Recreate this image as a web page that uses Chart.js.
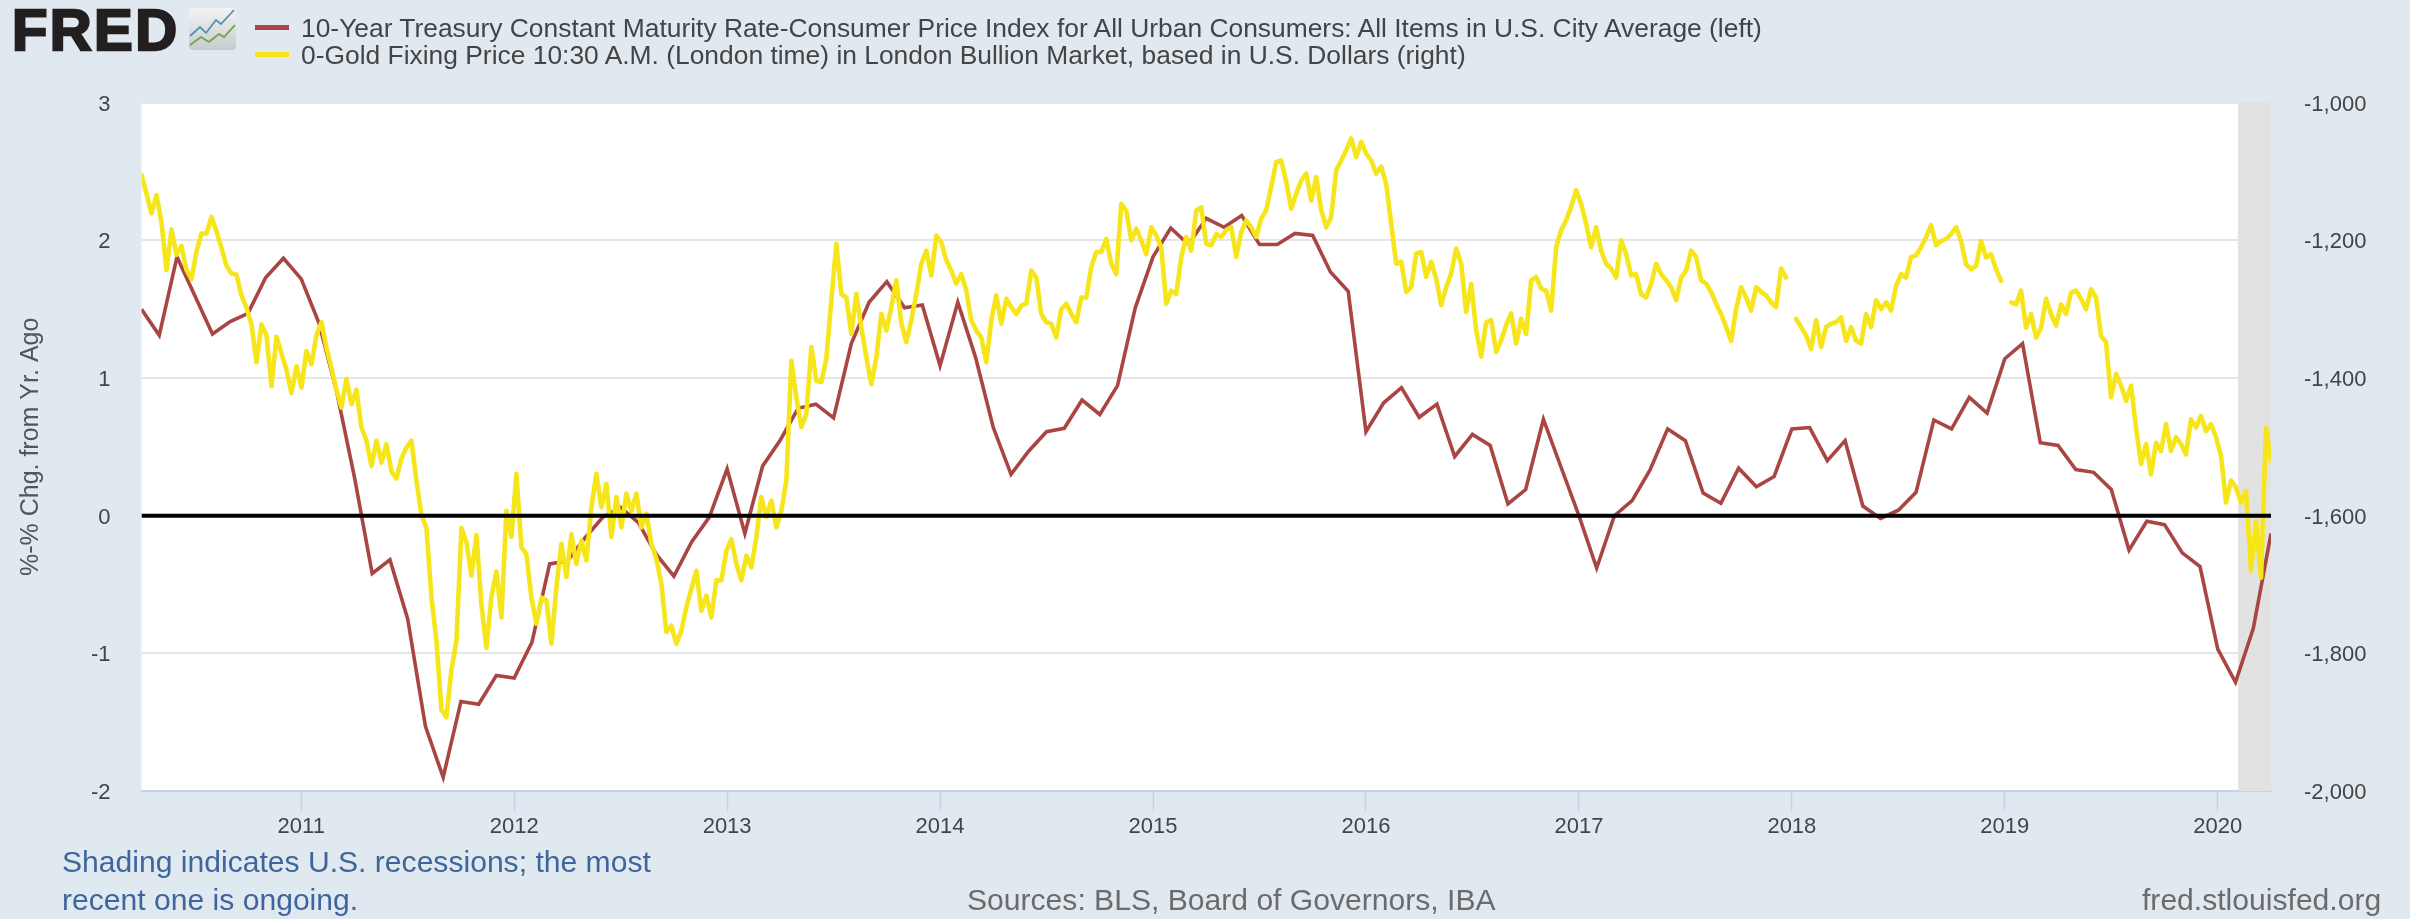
<!DOCTYPE html>
<html>
<head>
<meta charset="utf-8">
<title>10-Year Treasury real rate vs. gold</title>
<script src="https://cdn.jsdelivr.net/npm/chart.js@4"></script>
<style>
  html,body{margin:0;padding:0;background:#e1e9f0;width:2410px;height:919px;overflow:hidden;font-family:"Liberation Sans",Arial,sans-serif;}
  canvas{position:absolute;left:0;top:0;}
  .t{position:absolute;white-space:nowrap;}
  .key{position:absolute;left:255px;width:34px;height:5px;}
</style>
</head>
<body>
<canvas id="c" width="2410" height="919"></canvas>

<div class="t" id="logo" style="left:12px;top:-4px;font:bold 58px/68px 'Liberation Sans';color:#231f20;-webkit-text-stroke:2.4px #231f20;letter-spacing:2.4px;">FRED</div>
<svg style="position:absolute;left:189px;top:8px" width="48" height="43" viewBox="0 0 48 43">
  <defs><linearGradient id="g" x1="0" y1="0" x2="0" y2="1"><stop offset="0" stop-color="#f2f4f4"/><stop offset="1" stop-color="#c6cbcd"/></linearGradient></defs>
  <rect x="0" y="0" width="47" height="42" rx="4" fill="url(#g)"/>
  <polyline points="1,28 11,19 17,25 27,12 32,16 45,2" fill="none" stroke="#5a8fb0" stroke-width="1.8"/>
  <polyline points="1,37 12,29 20,34 30,26 35,29 46,17" fill="none" stroke="#6fa24a" stroke-width="1.8"/>
</svg>
<div class="key" id="k1" style="top:25px;"></div>
<div class="key" id="k2" style="top:52px;"></div>
<div class="t" id="l1" style="left:301px;top:13px;font-size:26.4px;line-height:30px;color:#444;"></div>
<div class="t" id="l2" style="left:301px;top:40px;font-size:26.4px;line-height:30px;color:#444;"></div>
<div class="t" id="n1" style="left:62px;top:843px;font-size:30.1px;line-height:38px;color:#3e659c;"></div>
<div class="t" id="n2" style="left:62px;top:881px;font-size:30.1px;line-height:38px;color:#3e659c;"></div>
<div class="t" id="src" style="left:967px;top:881px;font-size:30.1px;line-height:38px;color:#6b6b6b;"></div>
<div class="t" id="url" style="left:2142px;top:881px;font-size:30.1px;line-height:38px;color:#6b6b6b;"></div>

<script>
const realRateName = "10-Year Treasury Constant Maturity Rate-Consumer Price Index for All Urban Consumers: All Items in U.S. City Average (left)";
const goldName = "0-Gold Fixing Price 10:30 A.M. (London time) in London Bullion Market, based in U.S. Dollars (right)";
const leftAxisTitle = "%-% Chg. from Yr. Ago";
const noteLines = ["Shading indicates U.S. recessions; the most", "recent one is ongoing."];
const sourceText = "Sources: BLS, Board of Governors, IBA";
const siteText = "fred.stlouisfed.org";

const yearTicks = [2011,2012,2013,2014,2015,2016,2017,2018,2019,2020];
const leftTicks = [-2,-1,0,1,2,3];
const rightTicks = [-2000,-1800,-1600,-1400,-1200,-1000];
const axisStart = 2010.25;
const axisEnd = 2020.25;
const recessionStart = 2020.095;
const recessionEnd = 2020.25;
const zeroLevel = 0;

// monthly, first value April 2010
const realRate = [
 1.50,1.31,1.88,1.60,1.32,1.41,1.47,1.73,1.87,1.72,1.40,0.90,
 0.28,-0.42,-0.32,-0.75,-1.53,-1.90,-1.35,-1.37,-1.16,-1.18,-0.92,-0.35,
 -0.33,-0.16,-0.01,0.06,-0.05,-0.28,-0.44,-0.19,-0.01,0.34,-0.13,0.36,
 0.55,0.78,0.81,0.71,1.25,1.55,1.70,1.51,1.53,1.09,1.55,1.15,
 0.64,0.30,0.47,0.61,0.635,0.84,0.735,0.945,1.51,1.88,2.09,1.97,
 2.16,2.095,2.18,1.97,1.97,2.05,2.035,1.77,1.63,0.61,0.82,0.93,
 0.715,0.81,0.43,0.59,0.51,0.085,0.19,0.70,0.35,0,-0.38,0,
 0.11,0.33,0.63,0.545,0.165,0.09,0.345,0.21,0.285,0.63,0.64,0.40,
 0.545,0.07,-0.02,0.04,0.17,0.695,0.63,0.86,0.745,1.14,1.25,0.53,
 0.51,0.335,0.315,0.19,-0.25,-0.04,-0.065,-0.27,-0.37,-0.97,-1.21,-0.82,
 -0.13
];
const realRateStartYear = 2010.25;
const realRateStepYears = 1/12;

// at an even spacing along the time axis
const goldStepYears = 10/426;
const gold2010 = [
 -1105,-1132,-1161,-1134,-1174,-1243,-1184,-1221,-1208,-1243,-1256,-1216,-1190,-1190,-1166,-1187,-1211,-1237,-1248,-1250,
 -1280,-1298,-1322,-1377,-1322,-1338,-1412,-1340,-1364,-1388,-1422,-1383,-1414,-1361,-1380,-1338,-1319,-1356,-1385,-1417,
 -1443,-1401,-1438,-1417,-1472,-1491,-1528,-1491,-1523,-1496,-1536,-1546,-1517,-1501,-1491,-1549,-1599,-1618,-1718,-1782,
 -1882,-1893,-1824,-1782,-1618,-1639,-1687,-1628,-1729,-1792,-1718,-1681
];
const gold2012 = [
 -1748,-1593,-1631,-1539,-1646,-1656,-1719,-1757,-1719,-1723,-1786,-1704,-1641,-1689,-1627,-1670,-1636,-1665,-1588,-1539,
 -1588,-1554,-1631,-1573,-1617,-1568,-1593,-1568,-1617,-1597,-1641,-1663,-1699,-1769,-1760,-1786,-1767,-1733,-1706,-1680,
 -1738,-1716,-1748,-1694,-1694,-1651,-1634,-1670,-1694,-1658,-1675,-1631,-1573,-1602,-1578,-1617,-1593,-1549,-1375,-1428,
 -1471,-1452,-1355,-1404,-1406,-1372,-1287,-1205,-1278,-1283,-1336,-1278
];
const gold2013 = [
 -1326,-1370,-1409,-1370,-1307,-1331,-1297,-1258,-1321,-1348,-1316,-1278,-1234,-1215,-1251,-1193,-1203,-1229,-1244,-1263,
 -1249,-1273,-1316,-1331,-1341,-1377,-1316,-1280,-1321,-1285,-1297,-1307,-1295,-1292,-1244,-1254,-1307,-1319,-1321,-1341,
 -1300,-1292,-1307,-1319,-1283,-1283,-1239,-1217,-1217,-1198,-1234,-1249,-1147,-1157,-1200,-1183,-1200,-1220,-1181,-1193,
 -1210,-1292,-1273,-1278,-1224,-1195,-1215,-1157,-1152,-1205,-1207,-1191
];
const gold2015 = [
 -1195,-1185,-1181,-1224,-1188,-1171,-1181,-1195,-1168,-1156,-1122,-1086,-1084,-1115,-1154,-1132,-1113,-1103,-1142,-1108,
 -1156,-1181,-1166,-1098,-1084,-1069,-1052,-1079,-1057,-1074,-1084,-1103,-1093,-1118,-1176,-1234,-1231,-1275,-1268,-1219,
 -1217,-1253,-1231,-1256,-1294,-1268,-1248,-1212,-1234,-1304,-1263,-1331,-1369,-1319,-1316,-1362,-1345,-1323,-1306,-1350,
 -1314,-1336,-1258,-1253,-1270,-1273,-1302,-1210,-1185,-1171,-1151,-1127
];
const gold2017 = [
 -1147,-1176,-1210,-1181,-1215,-1234,-1241,-1254,-1200,-1220,-1251,-1249,-1278,-1283,-1263,-1234,-1249,-1258,-1268,-1287,
 -1254,-1244,-1215,-1224,-1258,-1263,-1275,-1292,-1307,-1326,-1346,-1300,-1268,-1283,-1302,-1268,-1275,-1280,-1290,-1297,
 -1241,-1254,null,-1314,-1326,-1338,-1358,-1316,-1355,-1326,-1321,-1319,-1312,-1346,-1326,-1346,-1350,-1307,-1326,-1287,
 -1300,-1290,-1302,-1266,-1249,-1254,-1224,-1222,-1210,-1195,-1178,-1207
];
const gold2018 = [
 -1201,-1198,-1191,-1181,-1201,-1235,-1242,-1237,-1201,-1225,-1220,-1242,-1259,null,-1290,-1293,-1273,-1327,-1307,-1341,
 -1327,-1285,-1307,-1324,-1293,-1307,-1276,-1273,-1285,-1300,-1271,-1283,-1339,-1348,-1428,-1394,-1411,-1433,-1411,-1472,
 -1525,-1496,-1540,-1494,-1506,-1467,-1506,-1486,-1496,-1511,-1460,-1472,-1455,-1477,-1467,-1486,-1513,-1581,-1549,-1559,
 -1581,-1564,-1680,-1608,-1690,-1472,-1520
];
const goldValues = [...gold2010,...gold2012,...gold2013,...gold2015,...gold2017,...gold2018];

const colors = {red:'#a94643', gold:'#f7e51c', zero:'#000000', grid:'#e6e6e6', axis:'#c6d3e6', tick:'#444444', band:'#e2e2e2'};

document.getElementById('l1').textContent = realRateName;
document.getElementById('l2').textContent = goldName;
document.getElementById('k1').style.background = colors.red;
document.getElementById('k2').style.background = colors.gold;
document.getElementById('n1').textContent = noteLines[0];
document.getElementById('n2').textContent = noteLines[1];
document.getElementById('src').textContent = sourceText;
document.getElementById('url').textContent = siteText;

const realRatePoints = realRate.map((y,i)=>({x:realRateStartYear+i*realRateStepYears,y}));
const goldPoints = goldValues.map((y,i)=>({x:axisStart+i*goldStepYears,y}));
const zeroPoints = [{x:axisStart,y:zeroLevel},{x:axisEnd,y:zeroLevel}];

const plotFrame = {
  id:'plotFrame',
  beforeDraw(ch){
    const a = ch.chartArea, c = ch.ctx;
    c.save(); c.fillStyle='#ffffff'; c.fillRect(a.left,a.top,a.right-a.left,a.bottom-a.top); c.restore();
  },
  beforeDatasetsDraw(ch){
    const a = ch.chartArea, c = ch.ctx, xs = ch.scales.x;
    const x0 = xs.getPixelForValue(recessionStart), x1 = xs.getPixelForValue(recessionEnd);
    c.save(); c.fillStyle=colors.band; c.fillRect(x0,a.top,x1-x0,a.bottom-a.top); c.restore();
  }
};

const font = {family:"'Liberation Sans',Arial,sans-serif", size:22};

new Chart(document.getElementById('c'),{
  type:'line',
  plugins:[plotFrame],
  data:{datasets:[
    {label:'zero',data:zeroPoints,yAxisID:'y',borderColor:colors.zero,borderWidth:4,pointRadius:0,order:0},
    {label:goldName,data:goldPoints,yAxisID:'y2',borderColor:colors.gold,borderWidth:4.6,pointRadius:0,tension:0,spanGaps:false,order:1,borderJoinStyle:'round',borderCapStyle:'round'},
    {label:realRateName,data:realRatePoints,yAxisID:'y',borderColor:colors.red,borderWidth:3.6,pointRadius:0,tension:0,order:2,borderJoinStyle:'miter'}
  ]},
  options:{
    responsive:false,animation:false,devicePixelRatio:1,
    layout:{padding:{top:102.7,left:0,right:0,bottom:0}},
    plugins:{legend:{display:false},title:{display:false},tooltip:{enabled:false}},
    scales:{
      x:{type:'linear',min:axisStart,max:axisEnd,
        afterBuildTicks(s){s.ticks=yearTicks.map(value=>({value}));},
        afterFit(s){s.height=128;},
        border:{display:true,color:colors.axis,width:2},
        grid:{display:true,drawOnChartArea:false,drawTicks:true,tickLength:20,tickColor:colors.axis,tickWidth:1.5},
        ticks:{autoSkip:false,maxRotation:0,minRotation:0,padding:3,color:colors.tick,font,callback:v=>String(v)}
      },
      y:{type:'linear',position:'left',min:leftTicks[0],max:leftTicks[leftTicks.length-1],
        afterBuildTicks(s){s.ticks=leftTicks.map(value=>({value}));},
        afterFit(s){s.width=141.5;},
        border:{display:false},
        grid:{color:colors.grid,lineWidth:2,drawTicks:false},
        title:{display:true,text:leftAxisTitle,color:'#555555',font:{family:font.family,size:25},padding:{top:16,bottom:0}},
        ticks:{padding:31,color:colors.tick,font,labelOffset:2,callback:v=>String(v)}
      },
      y2:{type:'linear',position:'right',min:rightTicks[0],max:rightTicks[rightTicks.length-1],
        afterBuildTicks(s){s.ticks=rightTicks.map(value=>({value}));},
        afterFit(s){s.width=139;},
        border:{display:false},
        grid:{drawOnChartArea:false,drawTicks:false},
        ticks:{padding:33,color:colors.tick,font,labelOffset:2,callback:v=>v.toLocaleString('en-US')}
      }
    }
  }
});
</script>
</body>
</html>
